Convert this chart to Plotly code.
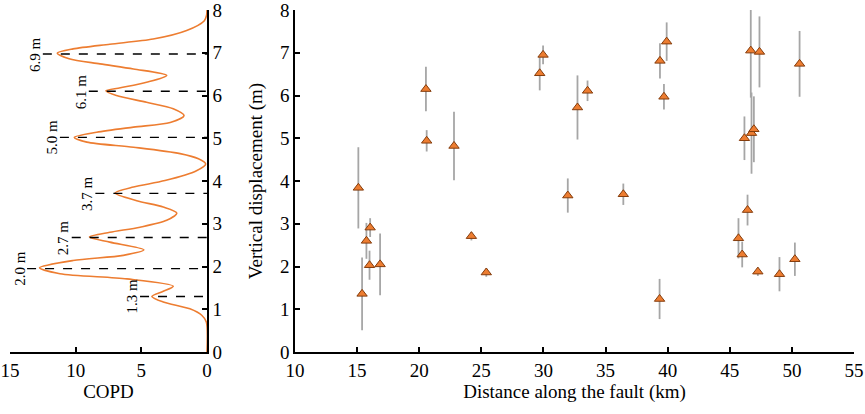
import plotly.graph_objects as go

# right panel: displacement measurements along the fault
distance_km = [15.1, 15.4, 15.75, 16.05, 16.0, 16.85, 20.54, 20.6, 22.8, 24.2, 25.4,
               29.7, 29.97, 31.96, 32.74, 33.55, 36.43, 39.35, 39.38, 39.7, 39.92,
               45.7, 46.0, 46.18, 46.43, 46.69, 46.75, 46.94, 47.26, 47.39, 49.0,
               50.24, 50.62]
displacement_m = [3.84, 1.36, 2.6, 2.91, 2.03, 2.05, 6.15, 4.94, 4.82, 2.71, 1.86,
                  6.52, 6.95, 3.66, 5.72, 6.11, 3.69, 1.24, 6.81, 5.97, 7.26,
                  2.66, 2.28, 5.0, 3.32, 7.05, 5.12, 5.21, 1.88, 7.02, 1.82,
                  2.17, 6.74]
displacement_err = [0.95, 0.85, 0.42, 0.22, 0.34, 0.72, 0.52, 0.25, 0.8, 0.1, 0.1,
                    0.4, 0.22, 0.4, 0.75, 0.24, 0.25, 0.47, 0.41, 0.3, 0.45,
                    0.47, 0.3, 0.51, 0.36, 1.1, 0.95, 0.77, 0.1, 0.83, 0.4,
                    0.39, 0.77]

# left panel: COPD curve
copd_y = [0, 0.7, 0.86, 1.01, 1.17, 1.3, 1.42, 1.54, 1.71, 1.83, 1.97, 2.14, 2.26,
          2.39, 2.57, 2.69, 2.8, 2.92, 3.08, 3.25, 3.39, 3.54, 3.72, 3.86, 4.01,
          4.24, 4.4, 4.52, 4.64, 4.79, 4.91, 5.02, 5.14, 5.26, 5.37, 5.53, 5.69,
          5.84, 6.0, 6.11, 6.18, 6.31, 6.47, 6.62, 6.74, 6.86, 6.99, 7.09, 7.2,
          7.32, 7.52, 7.75, 7.88, 8.0]
copd_val = [0, 0.05, 0.4, 1.3, 3.33, 4.2, 3.33, 2.57, 6.1, 11.2, 12.75, 10.2, 6.37,
            4.8, 7.4, 8.95, 7.4, 5.1, 3.07, 2.3, 3.33, 5.35, 7.0, 5.6, 3.2,
            0.8, 0.1, 0.65, 2.05, 5.6, 9.15, 10.1, 8.4, 5.6, 2.8, 1.75, 2.57,
            4.6, 6.9, 7.7, 6.6, 4.6, 3.07, 5.6, 8.15, 10.5, 11.4, 10.2, 7.4,
            4.1, 1.55, 0.2, 0.03, 0]

peak_y = [1.3, 1.95, 2.68, 3.71, 5.02, 6.1, 6.97]
peak_line_start = [5.1, 13.7, 10.3, 8.5, 11.2, 9.0, 12.5]
peak_labels = ["1.3 m", "2.0 m", "2.7 m", "3.7 m", "5.0 m", "6.1 m", "6.9 m"]

y_ticks = [0, 1, 2, 3, 4, 5, 6, 7, 8]
copd_ticks = [15, 10, 5, 0]
dist_ticks = [10, 15, 20, 25, 30, 35, 40, 45, 50, 55]

FONT = "Liberation Serif, Times New Roman, DejaVu Serif, serif"
ORANGE = "#ED7D31"

fig = go.Figure()

fig.add_trace(go.Scatter(
    x=copd_val, y=copd_y, mode="lines", line=dict(color=ORANGE, width=1.6, shape="spline", smoothing=0.8),
    xaxis="x", yaxis="y", showlegend=False, hoverinfo="skip"
))

for py, start in zip(peak_y, peak_line_start):
    fig.add_trace(go.Scatter(
        x=[start, 0], y=[py, py], mode="lines",
        line=dict(color="black", width=1.4, dash="dash"),
        xaxis="x", yaxis="y", showlegend=False, hoverinfo="skip"
    ))

for py, start, lab in zip(peak_y, peak_line_start, peak_labels):
    fig.add_annotation(
        x=start + 0.6, y=py, xref="x", yref="y", text=lab, textangle=-90,
        showarrow=False, font=dict(family=FONT, size=15, color="black")
    )

fig.add_trace(go.Scatter(
    x=distance_km, y=displacement_m, mode="markers",
    marker=dict(symbol="triangle-up", size=9, color=ORANGE, line=dict(color="#843C0C", width=1)),
    error_y=dict(type="data", array=displacement_err, color="#A6A6A6", thickness=1.8, width=0),
    xaxis="x2", yaxis="y2", showlegend=False
))

axis_common = dict(
    showgrid=False, zeroline=False, showline=True, linecolor="black", linewidth=1.5,
    ticks="inside", ticklen=5, tickwidth=1.5, tickcolor="black", automargin=False,
    ticklabeloverflow="allow",
    tickfont=dict(family=FONT, size=19, color="black"),
)
title_font = dict(family=FONT, size=19, color="black")

fig.update_layout(
    width=865, height=414,
    margin=dict(l=0, r=0, t=10, b=62),
    paper_bgcolor="white", plot_bgcolor="white",
    font=dict(family=FONT),
    xaxis=dict(domain=[10 / 865, 207 / 865], range=[15, 0], tickvals=copd_ticks,
               title=dict(text="COPD", font=title_font, standoff=2),
               anchor="y", **axis_common),
    yaxis=dict(domain=[0, 1], range=[0, 8], tickvals=y_ticks, side="right", anchor="x",
               layer="below traces", **axis_common),
    xaxis2=dict(domain=[295 / 865, 854 / 865], range=[10, 55], tickvals=dist_ticks,
                title=dict(text="Distance along the fault (km)", font=title_font, standoff=2),
                anchor="y2", **axis_common),
    yaxis2=dict(domain=[0, 1], range=[0, 8], tickvals=y_ticks, anchor="x2",
                title=dict(text="Vertical displacement (m)", font=title_font, standoff=12),
                **axis_common),
)

fig.write_html("out.html", config={"displayModeBar": False},
               post_script="document.body.style.margin='0';")
